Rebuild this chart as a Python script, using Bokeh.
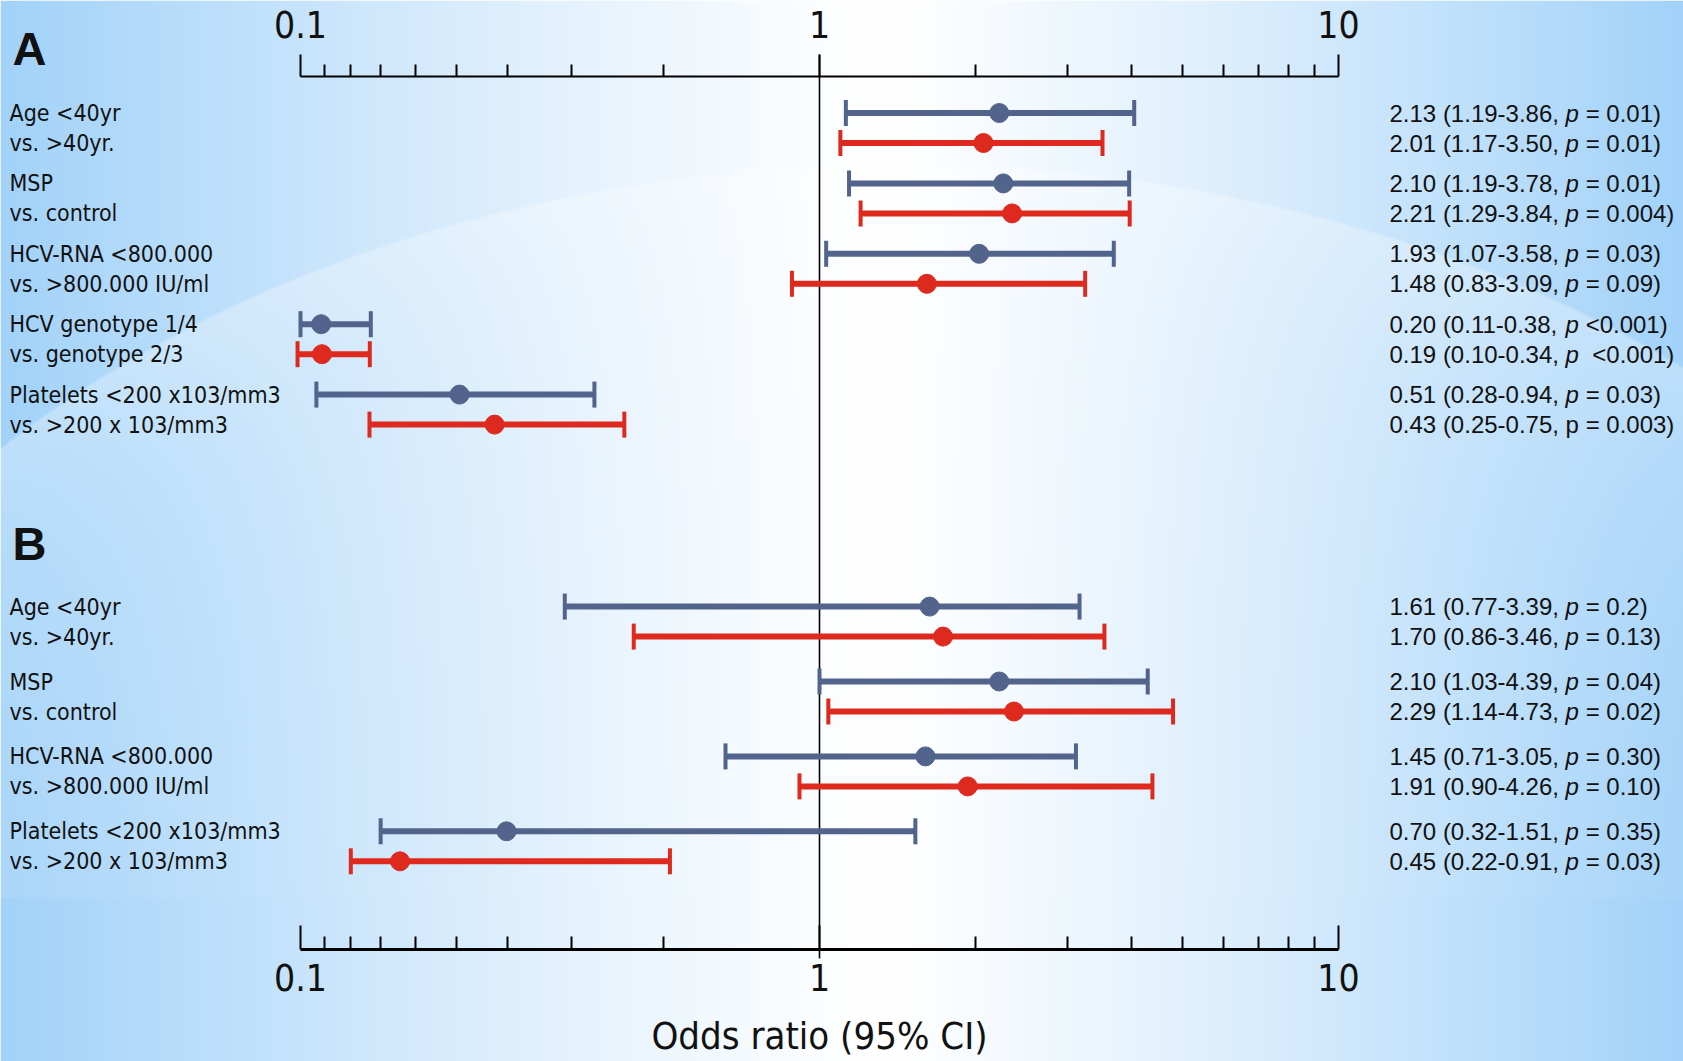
import numpy as np
from bokeh.plotting import figure
from bokeh.models import (Range1d, LinearScale, LogAxis, FixedTicker,
                          CustomJSTickFormatter, ColumnDataSource)
from bokeh.core.properties import value
from bokeh.embed import file_html
from bokeh.resources import INLINE

W, H = 1683, 1061

# ---------------- data ----------------
labels_A_line1 = ["Age <40yr", "MSP", "HCV-RNA <800.000", "HCV genotype 1/4", "Platelets <200 x103/mm3"]
labels_A_line2 = ["vs. >40yr.", "vs. control", "vs. >800.000 IU/ml", "vs. genotype 2/3", "vs. >200 x 103/mm3"]
labels_B_line1 = ["Age <40yr", "MSP", "HCV-RNA <800.000", "Platelets <200 x103/mm3"]
labels_B_line2 = ["vs. >40yr.", "vs. control", "vs. >800.000 IU/ml", "vs. >200 x 103/mm3"]

A_blue_or = [2.22, 2.26, 2.03, 0.1096, 0.2025]
A_blue_lo = [1.124, 1.14, 1.03, 0.100, 0.1073]
A_blue_hi = [4.04, 3.95, 3.69, 0.1366, 0.3684]
A_red_or = [2.07, 2.35, 1.61, 0.110, 0.2366]
A_red_lo = [1.097, 1.20, 0.885, 0.0987, 0.1358]
A_red_hi = [3.51, 3.96, 3.25, 0.136, 0.4207]

B_blue_or = [1.63, 2.22, 1.60, 0.2494]
B_blue_lo = [0.323, 1.00, 0.659, 0.1427]
B_blue_hi = [3.17, 4.29, 3.12, 1.53]
B_red_or = [1.73, 2.37, 1.93, 0.1555]
B_red_lo = [0.4386, 1.04, 0.915, 0.125]
B_red_hi = [3.54, 4.80, 4.38, 0.515]

A_stats_blue = ["2.13 (1.19-3.86, p = 0.01)", "2.10 (1.19-3.78, p = 0.01)",
                "1.93 (1.07-3.58, p = 0.03)", "0.20 (0.11-0.38, p <0.001)",
                "0.51 (0.28-0.94, p = 0.03)"]
A_stats_red = ["2.01 (1.17-3.50, p = 0.01)", "2.21 (1.29-3.84, p = 0.004)",
               "1.48 (0.83-3.09, p = 0.09)", "0.19 (0.10-0.34, p  <0.001)",
               "0.43 (0.25-0.75, p = 0.003)"]
A_red_p_italic = [True, True, True, True, False]
B_stats_blue = ["1.61 (0.77-3.39, p = 0.2)", "2.10 (1.03-4.39, p = 0.04)",
                "1.45 (0.71-3.05, p = 0.30)", "0.70 (0.32-1.51, p = 0.35)"]
B_stats_red = ["1.70 (0.86-3.46, p = 0.13)", "2.29 (1.14-4.73, p = 0.02)",
               "1.91 (0.90-4.26, p = 0.10)", "0.45 (0.22-0.91, p = 0.03)"]

major_ticks = [0.1, 1, 10]
minor_ticks = [1 / k for k in range(9, 1, -1)] + list(range(2, 10))
axis_title = "Odds ratio (95% CI)"

# ---------------- layout / style ----------------
BLUE = "#52648c"
RED = "#de2a1e"
NARROW = "'DejaVu Sans Condensed', 'Liberation Sans', sans-serif"
SANS = "Liberation Sans"


def ypx(v):
    """pixel-from-top -> data y"""
    return H - v


# x range: 1 at ~819 px, 519 px per decade
ppd = 519.0
L = -819 / ppd
Hh = L + W / ppd
p = figure(width=W, height=H, x_axis_type="log", x_range=Range1d(10 ** L, 10 ** Hh),
           y_range=Range1d(0, H), x_axis_location=None, y_axis_location=None,
           toolbar_location=None, output_backend="svg", min_border=0,
           outline_line_color=None, background_fill_color="#ffffff",
           border_fill_color="#ffffff")
p.grid.visible = False
p.extra_x_ranges = {"px": Range1d(0, W)}
p.extra_x_scales = {"px": LinearScale()}

# ---------------- background gradient ----------------
w2, h2 = W // 2, (H + 1) // 2
xs = (np.arange(w2) + 0.5) * W / w2
ys_top = H - (np.arange(h2) + 0.5) * H / h2   # row 0 = bottom
X, Y = np.meshgrid(xs, ys_top)
cx = 880.0
t = np.where(X < cx, (cx - X) / cx, (X - cx) / (W - cx))
t = np.clip(t, 0, 1) ** 1.2
edge = np.array([162.0, 210.0, 249.0])
col = 255.0 * (1 - t)[..., None] + edge[None, None, :] * t[..., None]
e = np.sqrt(((X - 900) / 1200.0) ** 2 + ((Y - 1000) / 837.0) ** 2)
a = np.clip((1 - e) * 837 / 2.0, 0, 1) * 0.30 * np.exp(-np.clip(1 - e, 0, 1) * 5.0)
a = a * np.clip((899 - Y) / 2.0, 0, 1)
col = col * (1 - a[..., None]) + 255.0 * a[..., None]
img = np.empty((h2, w2), dtype=np.uint32)
view = img.view(dtype=np.uint8).reshape((h2, w2, 4))
view[..., 0] = col[..., 0].astype(np.uint8)
view[..., 1] = col[..., 1].astype(np.uint8)
view[..., 2] = col[..., 2].astype(np.uint8)
view[..., 3] = 255
p.image_rgba(image=[img], x=0, y=0, dw=W, dh=H, x_range_name="px")

# ---------------- center line ----------------
p.segment(x0=[1], y0=[ypx(54)], x1=[1], y1=[ypx(958)], line_color="black", line_width=1.6)

# ---------------- rows ----------------
A_START, A_STEP = 112.5, 70.4
B_START, B_STEP = 606.1, 74.9
PAIR = 30.0
CAP = 13.0


def draw_series(or_, lo, hi, ypos, color):
    yd = [ypx(v) for v in ypos]
    src = ColumnDataSource(dict(o=or_, lo=lo, hi=hi, y=yd,
                                y0=[v - CAP for v in yd], y1=[v + CAP for v in yd]))
    p.segment(x0="lo", y0="y", x1="hi", y1="y", source=src, line_color=color, line_width=6)
    p.segment(x0="lo", y0="y0", x1="lo", y1="y1", source=src, line_color=color, line_width=4)
    p.segment(x0="hi", y0="y0", x1="hi", y1="y1", source=src, line_color=color, line_width=4)
    p.scatter(x="o", y="y", source=src, size=19, marker="circle", fill_color=color, line_color=color)


yA_blue = [A_START + A_STEP * i for i in range(len(A_blue_or))]
yA_red = [v + PAIR for v in yA_blue]
yB_blue = [B_START + B_STEP * i for i in range(len(B_blue_or))]
yB_red = [v + PAIR for v in yB_blue]

draw_series(A_blue_or, A_blue_lo, A_blue_hi, yA_blue, BLUE)
draw_series(A_red_or, A_red_lo, A_red_hi, yA_red, RED)
draw_series(B_blue_or, B_blue_lo, B_blue_hi, yB_blue, BLUE)
draw_series(B_red_or, B_red_lo, B_red_hi, yB_red, RED)

# ---------------- left labels ----------------
LAB_X = 9
for l1, l2, yb, yr in ((labels_A_line1, labels_A_line2, yA_blue, yA_red),
                       (labels_B_line1, labels_B_line2, yB_blue, yB_red)):
    p.text(x=[LAB_X] * (2 * len(l1)), y=[ypx(v) for v in yb + yr], text=l1 + l2,
           x_range_name="px", text_font=value(NARROW), text_font_size="23px",
           text_baseline="middle", text_align="left", text_color="#111111")

# panel letters
p.text(x=[12, 12], y=[ypx(48), ypx(543)], text=["A", "B"], x_range_name="px",
       text_font=value(SANS), text_font_style="bold", text_font_size="47px",
       text_baseline="middle", text_align="left", text_color="#111111")

# ---------------- right statistics (italic p) ----------------
ARIAL = {c: 0.556 for c in "0123456789p"}
ARIAL.update({".": 0.278, " ": 0.278, "(": 0.333, ")": 0.333, "-": 0.333,
              ",": 0.278, "=": 0.584, "<": 0.584})
FS = 24
STAT_X = 1389


def tw(s):
    return sum(ARIAL[c] for c in s) * FS


pre_x, pre_y, pre_t = [], [], []
p_x, p_y, p_t = [], [], []
pu_x, pu_y, pu_t = [], [], []
suf_x, suf_y, suf_t = [], [], []
for strs, ypos, ital in ((A_stats_blue, yA_blue, [True] * 5), (A_stats_red, yA_red, A_red_p_italic),
                         (B_stats_blue, yB_blue, [True] * 4), (B_stats_red, yB_red, [True] * 4)):
    for s, yv, it in zip(strs, ypos, ital):
        k = s.index(", p") + 2
        pre, suf = s[:k], s[k + 1:]
        pre_x.append(STAT_X); pre_y.append(ypx(yv)); pre_t.append(pre.rstrip())
        px0 = STAT_X + tw(pre)
        if it:
            p_x.append(px0); p_y.append(ypx(yv)); p_t.append("p")
        else:
            pu_x.append(px0); pu_y.append(ypx(yv)); pu_t.append("p")
        ns = len(suf) - len(suf.lstrip())
        suf_x.append(px0 + tw("p") + tw(suf[:ns])); suf_y.append(ypx(yv)); suf_t.append(suf.lstrip())

common = dict(x_range_name="px", text_font=value(SANS), text_font_size=f"{FS}px",
              text_baseline="middle", text_align="left", text_color="#111111")
p.text(x=pre_x, y=pre_y, text=pre_t, **common)
p.text(x=suf_x, y=suf_y, text=suf_t, **common)
p.text(x=pu_x, y=pu_y, text=pu_t, **common)
p.text(x=p_x, y=p_y, text=p_t, text_font_style="italic", **common)

# ---------------- axes ----------------
fmt = CustomJSTickFormatter(code="return tick < 1 ? tick.toFixed(1) : tick.toFixed(0);")


def style_axis(ax, lw):
    ax.bounds = (major_ticks[0], major_ticks[-1])
    ax.axis_line_color = "black"
    ax.axis_line_width = lw
    ax.major_tick_line_color = "black"
    ax.major_tick_line_width = 2
    ax.minor_tick_line_color = "black"
    ax.minor_tick_line_width = 2
    ax.major_label_text_font = NARROW
    ax.major_label_text_font_size = "37px"
    ax.major_label_text_color = "#111111"


top = LogAxis(fixed_location=ypx(76),
              ticker=FixedTicker(ticks=major_ticks, minor_ticks=minor_ticks),
              formatter=fmt)
style_axis(top, 2)
top.major_tick_out = 22
top.major_tick_in = 0
top.minor_tick_out = 12
top.minor_tick_in = 0
top.major_label_standoff = 17
p.add_layout(top, "above")

bot = LogAxis(fixed_location=ypx(949),
              ticker=FixedTicker(ticks=major_ticks, minor_ticks=minor_ticks),
              formatter=fmt, axis_label=axis_title)
style_axis(bot, 3)
bot.major_tick_out = 0
bot.major_tick_in = 24
bot.minor_tick_out = 0
bot.minor_tick_in = 13
bot.major_label_standoff = 14
bot.axis_label_text_font = NARROW
bot.axis_label_text_font_size = "38px"
bot.axis_label_text_font_style = "normal"
bot.axis_label_text_color = "#111111"
bot.axis_label_standoff = 20
p.add_layout(bot, "below")

open("out.html", "w").write(file_html(p, INLINE))
